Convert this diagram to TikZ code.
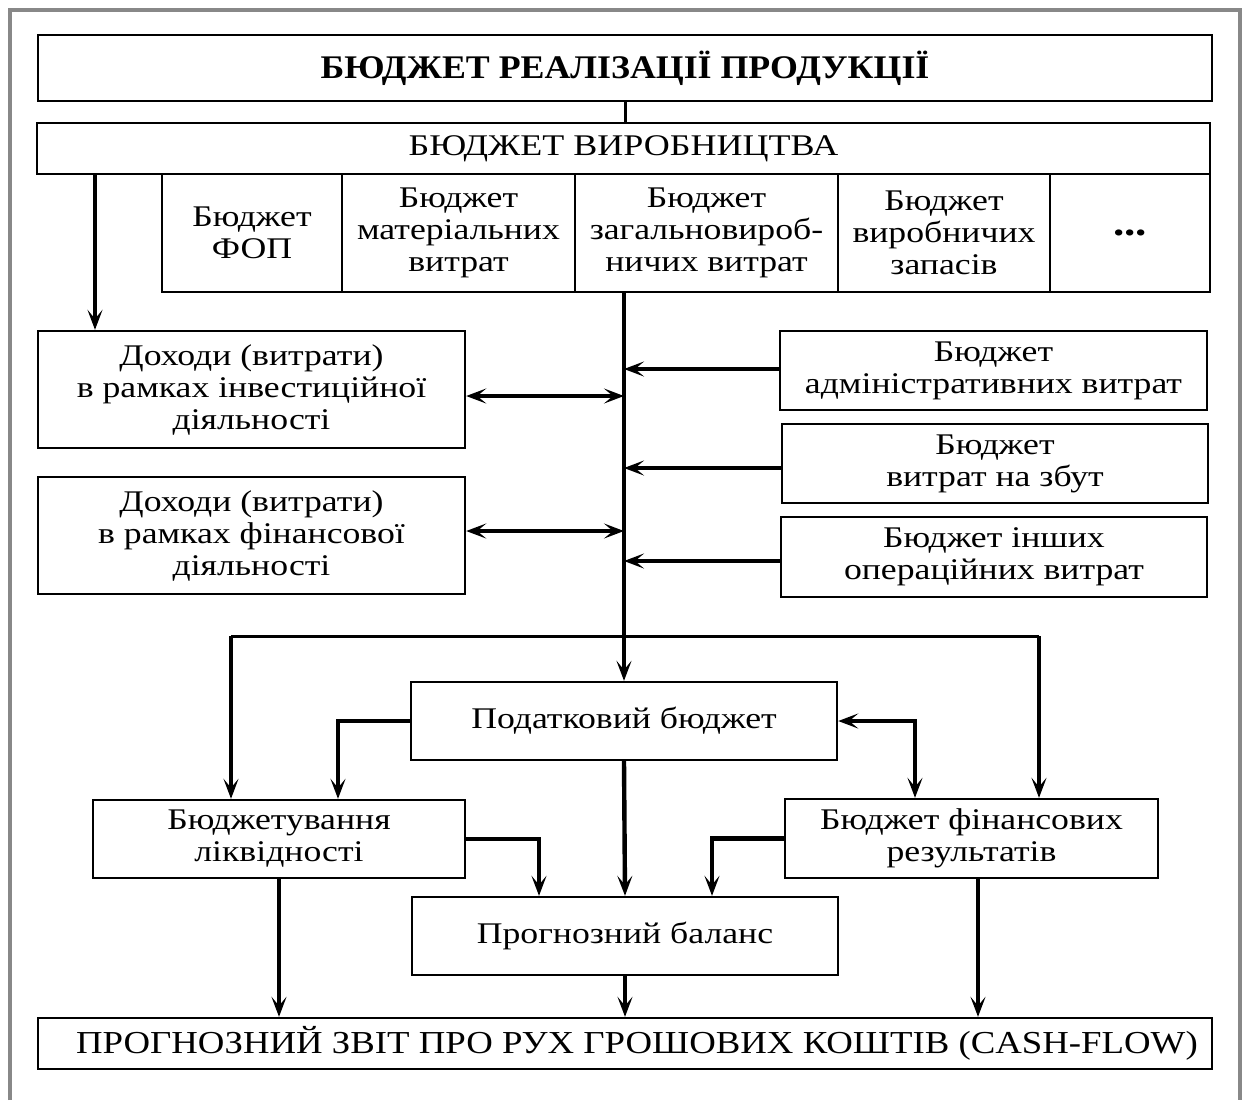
\documentclass[tikz,border=0pt]{standalone}
\usepackage{fontspec}
\setmainfont{Liberation Serif}
\newfontfamily\txtf[FakeStretch=1.19]{Liberation Serif}
\newfontfamily\prodf[FakeStretch=1.2]{Liberation Serif}
\newfontfamily\titf[FakeStretch=1.086]{Liberation Serif}
\newfontfamily\cashf[FakeStretch=1.15]{Liberation Serif}
\usetikzlibrary{arrows.meta}
\begin{document}
\begin{tikzpicture}[x=0.5pt,y=-0.5pt,
  box/.style={draw, line width=1.2pt, inner sep=0pt, align=center,
    font=\txtf\fontsize{15}{16}\selectfont},
  arr/.style={line width=2.2pt, -{Stealth[length=10pt,width=7.5pt,inset=4.5pt]}},
  darr/.style={line width=2.2pt, {Stealth[length=10pt,width=7.5pt,inset=4.5pt]}-{Stealth[length=10pt,width=7.5pt,inset=4.5pt]}},
  medline/.style={line width=1.5pt},
]
\useasboundingbox (0,0) rectangle (1246,1100);
\fill[white] (0,0) rectangle (1246,1100);
\draw[line width=2pt, color={rgb,255:red,136;green,136;blue,136}]
  (10,1100) -- (10,10) -- (1240,10) -- (1240,1100);

% top boxes
\node[box, minimum width=587pt, minimum height=33pt,
  font=\titf\bfseries\fontsize{16.5}{18}\selectfont] (title) at (625,68)
  {БЮДЖЕТ РЕАЛІЗАЦІЇ ПРОДУКЦІЇ};
\node[box, minimum width=586.5pt, minimum height=25.5pt,
  font=\prodf\fontsize{15}{17}\selectfont] (prod) at (623.5,148.5)
  {БЮДЖЕТ ВИРОБНИЦТВА};

\node[box, minimum width=90pt, minimum height=59pt] (fop) at (252,233) {Бюджет\\ФОП};
\node[box, minimum width=116.5pt, minimum height=59pt] (mat) at (458.5,233) {Бюджет\\матеріальних\\витрат};
\node[box, minimum width=131.5pt, minimum height=59pt] (gen) at (706.5,233) {Бюджет\\загальновироб-\\ничих витрат};
\node[box, minimum width=106pt, minimum height=59pt] (zap) at (944,233) {Бюджет\\виробничих\\запасів};
\node[box, minimum width=80pt, minimum height=59pt,
  font=\txtf\bfseries\fontsize{19}{20}\selectfont] (dots) at (1130,233) {\raisebox{-3pt}{...}};

% left boxes
\node[box, minimum width=213.5pt, minimum height=58.5pt] (inv) at (251.5,389.5)
  {Доходи (витрати)\\в рамках інвестиційної\\діяльності};
\node[box, minimum width=213.5pt, minimum height=58.5pt] (fin) at (251.5,535.5)
  {Доходи (витрати)\\в рамках фінансової\\діяльності};

% right boxes
\node[box, minimum width=213.5pt, minimum height=39.5pt] (adm) at (993.5,370.5)
  {Бюджет\\адміністративних витрат};
\node[box, minimum width=213pt, minimum height=39.5pt] (sal) at (995,463.5)
  {Бюджет\\витрат на збут};
\node[box, minimum width=213pt, minimum height=40pt] (oth) at (994,557)
  {Бюджет інших\\операційних витрат};

% lower boxes
\node[box, minimum width=213pt, minimum height=39pt] (tax) at (624,721) {Податковий бюджет};
\node[box, minimum width=186pt, minimum height=39pt] (liq) at (279,839) {Бюджетування\\ліквідності};
\node[box, minimum width=186.5pt, minimum height=39.5pt] (fr) at (971.5,838.5) {Бюджет фінансових\\результатів};
\node[box, minimum width=213pt, minimum height=39pt] (bal) at (625,936) {Прогнозний баланс};
\node[box, minimum width=587pt, minimum height=25.5pt,
  font=\cashf\fontsize{16}{18}\selectfont] (cash) at (625,1043.5)
  {\hspace*{12pt}ПРОГНОЗНИЙ ЗВІТ ПРО РУХ ГРОШОВИХ КОШТІВ (CASH-FLOW)};

% helper coordinates
\coordinate (xL) at (95,0);
\coordinate (hl) at (231,636);
\coordinate (hr) at (1039,636);
\coordinate (x338) at (338,0);
\coordinate (x915) at (915,0);
\coordinate (x539) at (539,0);
\coordinate (x712) at (712,0);
\coordinate (x978) at (978,0);

% connectors
\draw[medline] (title.south) -- (title.south |- prod.north);
\draw[arr] (prod.south -| xL) -- (inv.north -| xL);
\draw[arr] (gen.south -| tax.north) -- (tax.north);

\draw[darr] ([yshift=-3.25pt]inv.east) -- ([yshift=-3.25pt]inv.east -| tax.north);
\draw[darr] ([yshift=2.25pt]fin.east) -- ([yshift=2.25pt]fin.east -| tax.north);

\draw[arr] ([yshift=0.75pt]adm.west) -- ([yshift=0.75pt]adm.west -| tax.north);
\draw[arr] ([yshift=-2.25pt]sal.west) -- ([yshift=-2.25pt]sal.west -| tax.north);
\draw[arr] ([yshift=-2pt]oth.west) -- ([yshift=-2pt]oth.west -| tax.north);

\draw[medline] (hl) -- (hr);
\draw[arr, line width=2pt] (hl) -- (liq.north -| hl);
\draw[arr, line width=2pt] (hr) -- (fr.north -| hr);

\draw[arr] (tax.west) -| (liq.north -| x338);
\draw[darr] (tax.east) -| (fr.north -| x915);
\draw[arr] (tax.south) -- (bal.north);
\draw[arr] (liq.east) -| (bal.north -| x539);
\draw[arr] (fr.west) -| (bal.north -| x712);

\draw[arr] (liq.south) -- (liq.south |- cash.north);
\draw[arr] (bal.south) -- (bal.south |- cash.north);
\draw[arr] (fr.south -| x978) -- (cash.north -| x978);
\end{tikzpicture}
\end{document}
